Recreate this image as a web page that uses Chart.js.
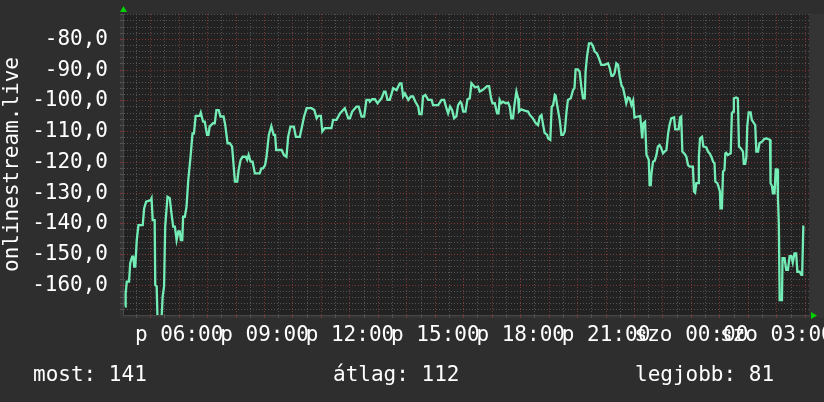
<!DOCTYPE html>
<html>
<head>
<meta charset="utf-8">
<title>onlinestream.live</title>
<script src="https://cdn.jsdelivr.net/npm/chart.js@4.4.1/dist/chart.umd.min.js"></script>
<style>
  html, body { margin: 0; padding: 0; background: #2e2e2e; }
  #wrap { width: 824px; height: 402px; }
</style>
</head>
<body>
<div id="wrap"><canvas id="rrd" width="824" height="402"></canvas></div>
<script>
// time of day in hours (24+ = next day, szombat)
var hours = [
  4.10, 4.12, 4.16, 4.24, 4.28, 4.35, 4.39, 4.42, 4.46, 4.51, 4.57, 4.72, 4.77, 4.84, 5.00, 5.03,
  5.07, 5.14, 5.16, 5.21, 5.24, 5.38, 5.42, 5.47, 5.51, 5.59, 5.67, 5.73, 5.79, 5.85, 5.91, 5.97,
  6.02, 6.06, 6.11, 6.14, 6.20, 6.26, 6.32, 6.40, 6.47, 6.52, 6.58, 6.72, 6.76, 6.84, 6.90, 6.98,
  7.03, 7.07, 7.19, 7.25, 7.31, 7.39, 7.45, 7.56, 7.62, 7.70, 7.78, 7.86, 7.96, 8.04, 8.09, 8.16,
  8.23, 8.34, 8.39, 8.44, 8.51, 8.58, 8.66, 8.83, 8.89, 8.95, 9.02, 9.07, 9.15, 9.24, 9.32, 9.37,
  9.41, 9.60, 9.68, 9.77, 9.83, 9.91, 10.03, 10.10, 10.24,
  10.39, 10.48, 10.65, 10.75, 10.83, 10.89, 10.98, 11.03, 11.12, 11.35, 11.41, 11.53, 11.65, 11.82,
  11.94, 12.00, 12.08, 12.23, 12.31, 12.41, 12.50, 12.58, 12.67, 12.70, 12.78, 12.88, 12.97, 13.11,
  13.20, 13.25, 13.32, 13.40, 13.52, 13.64, 13.75, 13.81, 13.87, 13.93, 14.05, 14.14, 14.22, 14.30,
  14.40, 14.44, 14.52, 14.57, 14.65, 14.75, 14.87, 14.92, 15.10, 15.22, 15.31, 15.39, 15.45, 15.52,
  15.59, 15.66, 15.74, 15.80, 15.88, 15.92, 15.98, 16.06, 16.13, 16.21, 16.27,
  16.39, 16.50, 16.56, 16.66, 16.74, 16.82, 16.89, 16.96, 17.01, 17.09, 17.17, 17.22, 17.26, 17.32,
  17.38, 17.47, 17.56, 17.62, 17.67, 17.73, 17.78, 17.85, 17.91, 17.94, 18.02, 18.14, 18.26, 18.32,
  18.43, 18.53, 18.61, 18.67, 18.73, 18.79, 18.84, 18.93, 18.96, 19.04, 19.09, 19.14, 19.20, 19.23,
  19.28, 19.32, 19.37, 19.43, 19.49, 19.55, 19.61, 19.66, 19.76, 19.84, 19.89, 19.93, 20.01, 20.07,
  20.13, 20.19, 20.25, 20.28, 20.33, 20.40, 20.48, 20.54, 20.60, 20.68, 20.75, 20.83, 20.95, 21.07,
  21.13, 21.19, 21.24, 21.30, 21.36, 21.42, 21.48, 21.54, 21.60, 21.65, 21.71, 21.77, 21.83, 21.89,
  21.95, 22.00, 22.12, 22.20, 22.27, 22.31, 22.37,
  22.42, 22.50, 22.53, 22.57, 22.59, 22.65, 22.71, 22.77, 22.82, 22.88, 22.94, 23.00, 23.06, 23.12,
  23.18, 23.23, 23.29, 23.39, 23.43, 23.55, 23.60, 23.64, 23.68, 23.76, 23.82, 23.88, 23.94, 24.05,
  24.09, 24.13, 24.17, 24.23, 24.26, 24.30, 24.37, 24.42, 24.52, 24.58, 24.64, 24.70, 24.76, 24.81,
  24.84, 24.91, 24.95, 25.00, 25.02, 25.07, 25.11, 25.16, 25.19, 25.22, 25.28, 25.38, 25.42, 25.46,
  25.49, 25.57, 25.63, 25.67, 25.73, 25.81, 25.84, 25.89, 25.93, 25.96, 26.01, 26.08, 26.12, 26.20,
  26.24, 26.28, 26.34, 26.39, 26.48, 26.55, 26.63, 26.71, 26.76, 26.78, 26.83, 26.86, 26.92, 26.96,
  27.01, 27.04, 27.07, 27.10, 27.18, 27.20, 27.27, 27.33, 27.39, 27.45, 27.51, 27.56, 27.62, 27.68,
  27.72, 27.80, 27.86, 27.89, 27.93, 27.97
];
var signal = [
  -166.9, -162.6, -158.8, -158.8, -152.8, -150.7, -150.7, -153.9, -153.9, -145.3, -140.4, -140.4, -135.0, -132.8, -132.3, -131.7,
  -138.8, -138.8, -159.9, -160.4, -171.0, -171.0, -163.7, -160.4, -140.9, -131.2, -131.7, -136.6, -140.9, -140.9, -145.3, -142.5,
  -142.5, -145.3, -145.3, -137.7, -137.7, -134.4, -125.7, -118.2, -110.6, -110.6, -104.9, -104.9, -103.8, -106.8, -106.8, -111.1,
  -111.1, -108.4, -107.3, -107.3, -103.0, -103.0, -105.1, -105.1, -107.9, -113.8, -113.8, -114.9, -126.3, -126.3, -122.5, -119.2,
  -118.2, -118.2, -119.2, -117.6, -119.8, -119.8, -123.6, -123.6, -122.0, -122.0, -120.9, -118.2, -111.1, -108.2, -111.1, -111.1,
  -116.0, -116.0, -117.6, -118.2, -111.7, -108.4, -108.4, -111.7, -111.7,
  -105.1, -102.4, -102.4, -103.0, -105.7, -104.9, -104.9, -110.0, -108.9, -108.9, -106.2, -106.2, -104.1, -102.4,
  -105.7, -105.7, -103.5, -101.9, -101.9, -105.1, -105.1, -99.7, -99.7, -100.3, -99.5, -99.5, -100.8, -99.2,
  -97.0, -97.0, -99.7, -99.7, -95.9, -96.5, -94.3, -94.3, -98.6, -97.6, -99.7, -98.6, -98.6, -100.3,
  -101.9, -104.3, -104.3, -98.6, -98.1, -99.7, -99.7, -101.4, -101.4, -99.7, -99.7, -102.4, -104.1, -101.9,
  -103.0, -105.7, -105.1, -101.4, -100.3, -100.8, -103.5, -103.5, -99.5, -99.2, -94.3,
  -95.6, -95.4, -97.0, -96.5, -95.9, -95.2, -95.2, -99.2, -100.8, -100.8, -104.1, -104.1, -99.7, -100.8,
  -100.3, -100.8, -100.6, -102.1, -105.7, -105.7, -101.4, -97.0, -99.2, -103.5, -102.8, -103.2, -103.5, -104.6,
  -105.7, -107.3, -107.9, -105.1, -104.6, -107.9, -110.4, -111.1, -112.2, -112.7, -101.9, -101.4, -98.1, -98.4,
  -101.4, -103.5, -106.2, -111.1, -111.1, -110.0, -103.5, -99.7, -99.2, -96.5, -95.9, -89.8, -89.8, -90.5,
  -95.4, -99.2, -99.2, -90.5, -85.6, -81.3, -81.3, -82.2, -84.0, -84.6, -86.2, -88.3, -88.3, -87.8,
  -89.4, -91.9, -91.9, -91.0, -87.8, -88.3, -92.1, -94.9, -95.9, -98.1, -100.8, -98.9, -99.2, -101.4,
  -99.9, -105.4, -105.1, -104.9, -112.2, -107.3, -106.8,
  -117.6, -119.2, -127.4, -127.4, -124.1, -119.8, -119.5, -117.6, -114.9, -114.4, -115.4, -117.1, -116.5, -116.0,
  -110.6, -107.9, -105.7, -105.4, -109.3, -109.3, -105.4, -105.1, -116.5, -117.3, -118.2, -120.9, -121.4, -121.4,
  -129.5, -129.9, -126.8, -126.8, -118.2, -112.2, -111.7, -114.9, -115.1, -116.5, -117.1, -118.2, -119.8, -120.3,
  -126.3, -126.8, -127.9, -129.5, -135.0, -135.0, -123.0, -122.5, -117.1, -116.9, -117.6, -117.1, -104.1, -103.5,
  -99.2, -98.9, -99.2, -114.9, -115.4, -116.5, -120.5, -120.5, -118.2, -108.4, -103.8, -103.8, -106.2, -107.3,
  -107.9, -116.5, -116.5, -113.8, -113.3, -112.5, -112.2, -112.5, -112.7, -126.8, -127.7, -130.1, -130.1, -122.3,
  -122.3, -131.7, -139.8, -164.8, -164.8, -151.2, -151.2, -155.0, -155.0, -150.5, -150.5, -152.6, -149.6, -149.6,
  -155.6, -155.6, -156.6, -156.6, -140.9, -140.9
];

var xRange = [4.027, 28.13];
var yRange = [-169.66, -71.77];
var summaryLabels = ['most', 'átlag', 'legjobb'];
var summaryValues = [141, 112, 81];
var dayNames = ['p', 'szo'];

var FONT = 'DejaVu Sans Mono';
var RED = '#7c3636';
var GRAY = '#545454';

function xLabel(h) {
  if (h % 3 !== 0) return '';
  var day = h >= 24 ? dayNames[1] : dayNames[0];
  var hh = h % 24;
  return day + ' ' + (hh < 10 ? '0' : '') + hh + ':00';
}

var rrdBackground = {
  id: 'rrdBackground',
  beforeDraw: function (chart) {
    var c = chart.ctx, a = chart.chartArea;
    c.save();
    c.fillStyle = '#2e2e2e';
    c.fillRect(0, 0, chart.width, chart.height);
    c.fillStyle = '#343434';
    c.fillRect(a.left - 3, a.top, chart.width - a.left + 3, a.bottom - a.top + 3);
    c.fillStyle = '#222222';
    c.fillRect(a.left, a.top, a.right - a.left, a.bottom - a.top);
    c.restore();
  },
  afterDraw: function (chart) {
    var c = chart.ctx, a = chart.chartArea;
    c.save();
    // axis arrows
    c.fillStyle = '#00d000';
    c.beginPath();
    c.moveTo(a.left - 3, a.top - 2);
    c.lineTo(a.left + 4, a.top - 2);
    c.lineTo(a.left + 0.5, a.top - 8);
    c.closePath();
    c.fill();
    c.beginPath();
    c.moveTo(a.right + 2, a.bottom - 3);
    c.lineTo(a.right + 2, a.bottom + 4);
    c.lineTo(a.right + 8, a.bottom + 0.5);
    c.closePath();
    c.fill();
    // summary row
    c.fillStyle = '#ffffff';
    c.font = '21px "' + FONT + '"';
    c.textBaseline = 'alphabetic';
    var xs = [33, 333, 635];
    for (var i = 0; i < summaryLabels.length; i++) {
      c.fillText(summaryLabels[i] + ': ' + summaryValues[i], xs[i], 381);
    }
    c.restore();
  }
};

var points = hours.map(function (h, i) { return { x: h, y: signal[i] }; });

new Chart(document.getElementById('rrd'), {
  type: 'line',
  data: {
    datasets: [{
      label: 'onlinestream.live',
      data: points,
      borderColor: '#74ecb6',
      borderWidth: 2.3,
      pointRadius: 0,
      tension: 0,
      fill: false,
      clip: 0
    }]
  },
  options: {
    responsive: false,
    animation: false,
    devicePixelRatio: 1,
    layout: { padding: { left: 0, top: 14, right: 15, bottom: 0 } },
    plugins: { legend: { display: false }, tooltip: { enabled: false } },
    scales: {
      x: {
        type: 'linear',
        min: xRange[0],
        max: xRange[1],
        afterFit: function (s) {
          s.height = 87;
          s.paddingLeft = 0;
          s.paddingRight = 0;
        },
        afterBuildTicks: function (s) {
          var t = [];
          for (var h = 4.5; h <= 28; h += 0.5) t.push({ value: h });
          s.ticks = t;
        },
        grid: {
          color: function (c) { return c.tick && c.tick.value % 1 === 0 ? RED : GRAY; },
          lineWidth: 1,
          drawTicks: true,
          tickLength: 3
        },
        border: { display: true, color: '#484848', dash: [1, 2] },
        ticks: {
          autoSkip: false,
          maxRotation: 0,
          minRotation: 0,
          padding: 5,
          color: '#ffffff',
          font: { family: FONT, size: 21 },
          callback: function (v) { return xLabel(v); }
        }
      },
      y: {
        min: yRange[0],
        max: yRange[1],
        afterFit: function (s) {
          s.width = 123;
          s.paddingTop = 0;
          s.paddingBottom = 0;
        },
        afterBuildTicks: function (s) {
          var t = [];
          for (var v = -168; v <= -72; v += 2) t.push({ value: v });
          s.ticks = t;
        },
        grid: {
          color: function (c) { return c.tick && c.tick.value % 10 === 0 ? RED : GRAY; },
          lineWidth: 1,
          drawTicks: true,
          tickLength: 3
        },
        border: { display: true, color: '#484848', dash: [1, 2] },
        title: {
          display: true,
          text: 'onlinestream.live',
          color: '#ffffff',
          font: { family: FONT, size: 21 },
          padding: { top: 0, bottom: 0 }
        },
        ticks: {
          autoSkip: false,
          padding: 12,
          color: '#ffffff',
          font: { family: FONT, size: 21 },
          callback: function (v) { return v % 10 === 0 ? v.toFixed(1).replace('.', ',') : ''; }
        }
      }
    }
  },
  plugins: [rrdBackground]
});
</script>
</body>
</html>
